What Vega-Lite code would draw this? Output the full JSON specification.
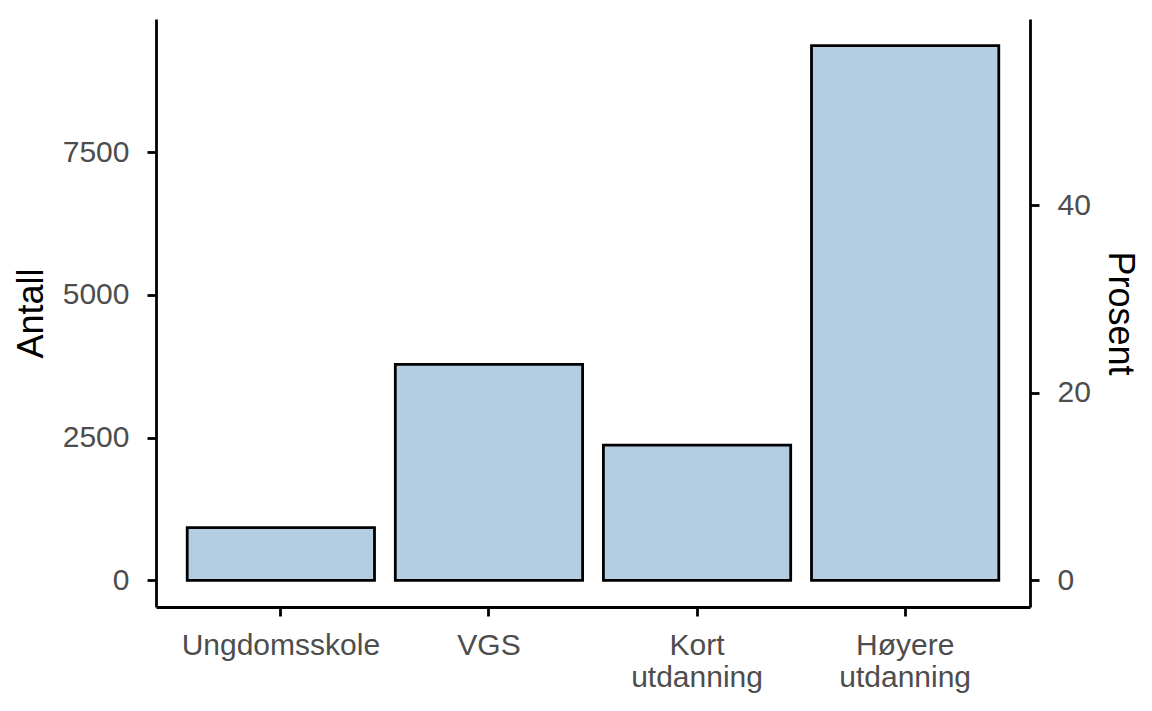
{
  "$schema": "https://vega.github.io/schema/vega-lite/v6.json",
  "width": 874,
  "height": 588,
  "autosize": {"type": "none"},
  "padding": {"left": 156, "top": 19, "right": 122, "bottom": 104},
  "background": "white",
  "data": {
    "values": [
      {"utdanning": "Ungdomsskole", "antall": 922, "prosent": 5.61},
      {"utdanning": "VGS", "antall": 3780, "prosent": 23.01},
      {"utdanning": "Kort utdanning", "antall": 2366, "prosent": 14.4},
      {"utdanning": "Høyere utdanning", "antall": 9363, "prosent": 56.98}
    ]
  },
  "encoding": {
    "x": {
      "field": "utdanning",
      "type": "nominal",
      "sort": null,
      "scale": {"paddingInner": 0.1, "paddingOuter": 0.15},
      "axis": {
        "title": null,
        "labelAngle": 0,
        "labelLimit": 0,
        "labelExpr": "split(datum.label, ' ')",
        "labelLineHeight": 32,
        "labelPadding": 14
      }
    }
  },
  "layer": [
    {
      "mark": {"type": "bar", "fill": "#B3CDE3", "stroke": "black", "strokeWidth": 2.8},
      "encoding": {
        "y": {
          "field": "antall",
          "type": "quantitative",
          "scale": {"domain": [-468, 9831], "nice": false, "zero": false},
          "axis": {"title": "Antall", "values": [0, 2500, 5000, 7500], "format": "d", "orient": "left", "titlePadding": 12}
        }
      }
    },
    {
      "mark": {"type": "bar", "opacity": 0},
      "encoding": {
        "y": {
          "field": "prosent",
          "type": "quantitative",
          "scale": {"domain": [-2.848, 59.83], "nice": false, "zero": false},
          "axis": {"title": "Prosent", "values": [0, 20, 40], "format": "d", "orient": "right", "titlePadding": 10}
        }
      }
    }
  ],
  "resolve": {"scale": {"y": "independent"}, "axis": {"y": "independent"}},
  "config": {
    "view": {"stroke": null},
    "font": "Liberation Sans",
    "axis": {
      "grid": false,
      "domainColor": "black",
      "domainWidth": 2.8,
      "tickColor": "black",
      "tickWidth": 2.8,
      "tickSize": 9,
      "labelFont": "Liberation Sans",
      "labelFontSize": 30,
      "labelColor": "#4D4D4D",
      "labelPadding": 18,
      "titleFont": "Liberation Sans",
      "titleFontSize": 36,
      "titleFontWeight": "normal",
      "titleColor": "black"
    }
  }
}
